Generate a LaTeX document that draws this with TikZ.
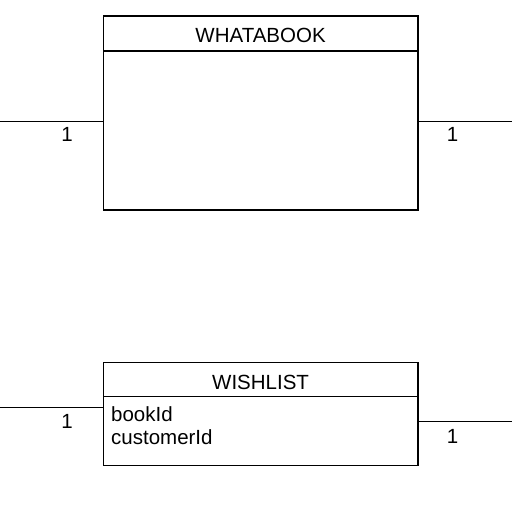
\documentclass[tikz,border=0pt]{standalone}
\usepackage{fontspec}
\setmainfont{Liberation Sans}
\usetikzlibrary{positioning}
\tikzset{
  entity/.style = {draw, line width=1.4pt, minimum width=314.7pt, inner sep=0pt},
  header/.style = {draw, line width=1.4pt, minimum width=314.7pt, inner sep=0pt},
  field/.style = {anchor=base west, inner sep=0pt},
  card/.style = {inner sep=0pt},
  rel/.style = {line width=1.4pt}
}
\begin{document}
\begin{tikzpicture} [x=1pt, y=-1pt, font=\fontsize{20.5}{24}\selectfont]
\useasboundingbox (0,0) rectangle (512,512);
% entities
\node[entity, minimum height=194pt] (wb) at (260.6,113) {};
\node[header, minimum height=35pt, anchor=north] (wbh) at (wb.north) {};
\node (wbt) at ([yshift=-2pt]wbh.center) {WHATABOOK};
\node[entity, minimum height=103.2pt] (ws) at (260.6,414.1) {};
\node[header, minimum height=34.2pt, anchor=north] (wsh) at (ws.north) {};
\node (wst) at ([yshift=-2.5pt]wsh.center) {WISHLIST};
\node[field] (f1) at (111,421) {bookId};
\node[field] (f2) at (111,444.3) {customerId};
% relations
\coordinate (l1) at (0,121.6);
\coordinate (r1) at (512,121.6);
\coordinate (l2) at (0,407.3);
\coordinate (r2) at (512,421.7);
\draw[rel] (l1) -- (l1 -| wb.west);
\draw[rel] (r1) -- (r1 -| wb.east);
\draw[rel] (l2) -- (l2 -| ws.west);
\draw[rel] (r2) -- (r2 -| ws.east);
\node[card] (c1) at (67,134.5) {1};
\node[card] (c2) at (452.5,134.5) {1};
\node[card] (c3) at (67,421) {1};
\node[card] (c4) at (452.5,436) {1};
\end{tikzpicture}
\end{document}
